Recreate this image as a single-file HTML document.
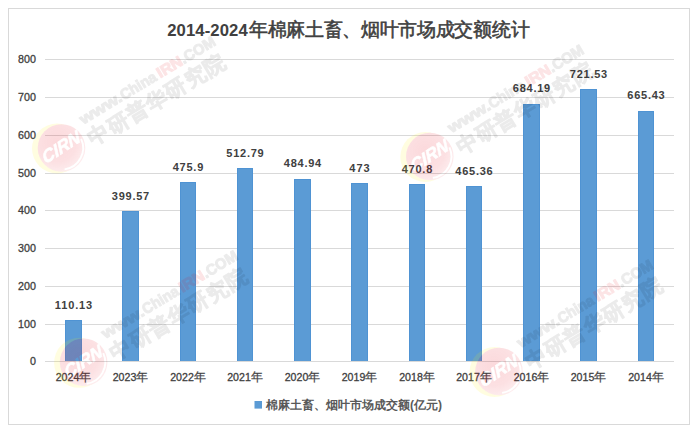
<!DOCTYPE html>
<html><head><meta charset="utf-8">
<style>
html,body{margin:0;padding:0;background:#fff;}
body{width:697px;height:433px;overflow:hidden;font-family:"Liberation Sans",sans-serif;}
svg{display:block;}
text{font-family:"Liberation Sans",sans-serif;}
</style></head><body>
<svg width="697" height="433" viewBox="0 0 697 433">
<defs>
<mask id="ym" maskUnits="userSpaceOnUse" x="-40" y="-40" width="80" height="80"><rect x="-40" y="-40" width="80" height="80" fill="#fff"/><circle cx="0" cy="0" r="23.8" fill="#000"/></mask>
<mask id="rm" maskUnits="userSpaceOnUse" x="-40" y="-40" width="80" height="80"><rect x="-40" y="-40" width="80" height="80" fill="#fff"/>
<path d="M19.6,-9.1 A21.6,21.6 0 0 1 3.1,21.4" fill="none" stroke="#000" stroke-width="1.9"/>
<g transform="rotate(-33) skewX(-10)"><text x="0" y="5" text-anchor="middle" font-size="17.5" font-weight="bold" font-style="italic" fill="#000" stroke="#000" stroke-width="0.7">CIRN</text></g>
</mask>
<radialGradient id="rg" cx="0.4" cy="0.38" r="0.7">
<stop offset="0" stop-color="#e60012" stop-opacity="0.15"/>
<stop offset="0.6" stop-color="#e60012" stop-opacity="0.12"/>
<stop offset="1" stop-color="#e60012" stop-opacity="0.06"/>
</radialGradient>
<g id="wm">
<circle cx="-4.5" cy="0.5" r="25" fill="#fff000" fill-opacity="0.12" mask="url(#ym)"/>
<circle cx="0" cy="0" r="23.8" fill="url(#rg)" mask="url(#rm)"/>
<g transform="rotate(-31)">
<g opacity="0.075" font-weight="bold" fill="#000" stroke="#000" stroke-width="1.1" stroke-linejoin="round" font-size="15">
<text x="30.6" y="-8.8" textLength="47" lengthAdjust="spacingAndGlyphs">www.</text>
<text x="77.8" y="-8.8" textLength="40" lengthAdjust="spacingAndGlyphs">China</text>
<text x="148" y="-8.8" textLength="38.5" lengthAdjust="spacingAndGlyphs">.COM</text>
<text x="28" y="15" font-size="21" stroke-width="1" textLength="156" lengthAdjust="spacing">中研普华研究院</text>
</g>
<g opacity="0.1" font-weight="bold" fill="#e60012" stroke="#e60012" stroke-width="1.1" stroke-linejoin="round" font-size="15">
<text x="120.6" y="-8.8" textLength="27.5" lengthAdjust="spacingAndGlyphs">IRN</text>
</g>
</g>
</g>
</defs>
<rect x="0" y="0" width="697" height="433" fill="#fff"/>
<rect x="8.5" y="8.5" width="681" height="416" fill="#fff" stroke="#d9d9d9" stroke-width="1"/>

<rect x="45" y="59" width="629" height="1" fill="#d9d9d9"/>
<rect x="45" y="97" width="629" height="1" fill="#d9d9d9"/>
<rect x="45" y="135" width="629" height="1" fill="#d9d9d9"/>
<rect x="45" y="173" width="629" height="1" fill="#d9d9d9"/>
<rect x="45" y="210" width="629" height="1" fill="#d9d9d9"/>
<rect x="45" y="248" width="629" height="1" fill="#d9d9d9"/>
<rect x="45" y="286" width="629" height="1" fill="#d9d9d9"/>
<rect x="45" y="324" width="629" height="1" fill="#d9d9d9"/>
<rect x="45" y="361" width="629" height="1" fill="#d9d9d9"/>
<rect x="65" y="320" width="17" height="41" fill="#5b9bd5"/>
<path d="M65.5,361V320.5H81.5V361" fill="none" stroke="#4f93d3" stroke-width="1"/>
<text x="73.50" y="308.89" text-anchor="middle" font-size="11" font-weight="bold" fill="#404040" textLength="37.36" lengthAdjust="spacing">110.13</text>
<text x="73.50" y="381" text-anchor="middle" font-size="10.6" fill="#404040" stroke="#404040" stroke-width="0.3">2024<tspan font-size="12" stroke-width="0.2">年</tspan></text>
<rect x="122" y="211" width="17" height="150" fill="#5b9bd5"/>
<path d="M122.5,361V211.5H138.5V361" fill="none" stroke="#4f93d3" stroke-width="1"/>
<text x="130.50" y="199.53" text-anchor="middle" font-size="11" font-weight="bold" fill="#404040" textLength="37.36" lengthAdjust="spacing">399.57</text>
<text x="130.50" y="381" text-anchor="middle" font-size="10.6" fill="#404040" stroke="#404040" stroke-width="0.3">2023<tspan font-size="12" stroke-width="0.2">年</tspan></text>
<rect x="180" y="182" width="16" height="179" fill="#5b9bd5"/>
<path d="M180.5,361V182.5H195.5V361" fill="none" stroke="#4f93d3" stroke-width="1"/>
<text x="188.00" y="170.70" text-anchor="middle" font-size="11" font-weight="bold" fill="#404040" textLength="30.60" lengthAdjust="spacing">475.9</text>
<text x="188.00" y="381" text-anchor="middle" font-size="10.6" fill="#404040" stroke="#404040" stroke-width="0.3">2022<tspan font-size="12" stroke-width="0.2">年</tspan></text>
<rect x="237" y="168" width="16" height="193" fill="#5b9bd5"/>
<path d="M237.5,361V168.5H252.5V361" fill="none" stroke="#4f93d3" stroke-width="1"/>
<text x="245.00" y="156.76" text-anchor="middle" font-size="11" font-weight="bold" fill="#404040" textLength="37.36" lengthAdjust="spacing">512.79</text>
<text x="245.00" y="381" text-anchor="middle" font-size="10.6" fill="#404040" stroke="#404040" stroke-width="0.3">2021<tspan font-size="12" stroke-width="0.2">年</tspan></text>
<rect x="294" y="179" width="17" height="182" fill="#5b9bd5"/>
<path d="M294.5,361V179.5H310.5V361" fill="none" stroke="#4f93d3" stroke-width="1"/>
<text x="302.50" y="167.28" text-anchor="middle" font-size="11" font-weight="bold" fill="#404040" textLength="37.36" lengthAdjust="spacing">484.94</text>
<text x="302.50" y="381" text-anchor="middle" font-size="10.6" fill="#404040" stroke="#404040" stroke-width="0.3">2020<tspan font-size="12" stroke-width="0.2">年</tspan></text>
<rect x="351" y="183" width="17" height="178" fill="#5b9bd5"/>
<path d="M351.5,361V183.5H367.5V361" fill="none" stroke="#4f93d3" stroke-width="1"/>
<text x="359.50" y="171.79" text-anchor="middle" font-size="11" font-weight="bold" fill="#404040" textLength="20.28" lengthAdjust="spacing">473</text>
<text x="359.50" y="381" text-anchor="middle" font-size="10.6" fill="#404040" stroke="#404040" stroke-width="0.3">2019<tspan font-size="12" stroke-width="0.2">年</tspan></text>
<rect x="409" y="184" width="16" height="177" fill="#5b9bd5"/>
<path d="M409.5,361V184.5H424.5V361" fill="none" stroke="#4f93d3" stroke-width="1"/>
<text x="417.00" y="172.62" text-anchor="middle" font-size="11" font-weight="bold" fill="#404040" textLength="30.60" lengthAdjust="spacing">470.8</text>
<text x="417.00" y="381" text-anchor="middle" font-size="10.6" fill="#404040" stroke="#404040" stroke-width="0.3">2018<tspan font-size="12" stroke-width="0.2">年</tspan></text>
<rect x="466" y="186" width="16" height="175" fill="#5b9bd5"/>
<path d="M466.5,361V186.5H481.5V361" fill="none" stroke="#4f93d3" stroke-width="1"/>
<text x="474.00" y="174.68" text-anchor="middle" font-size="11" font-weight="bold" fill="#404040" textLength="37.36" lengthAdjust="spacing">465.36</text>
<text x="474.00" y="381" text-anchor="middle" font-size="10.6" fill="#404040" stroke="#404040" stroke-width="0.3">2017<tspan font-size="12" stroke-width="0.2">年</tspan></text>
<rect x="523" y="104" width="17" height="257" fill="#5b9bd5"/>
<path d="M523.5,361V104.5H539.5V361" fill="none" stroke="#4f93d3" stroke-width="1"/>
<text x="531.50" y="92.00" text-anchor="middle" font-size="11" font-weight="bold" fill="#404040" textLength="37.36" lengthAdjust="spacing">684.19</text>
<text x="531.50" y="381" text-anchor="middle" font-size="10.6" fill="#404040" stroke="#404040" stroke-width="0.3">2016<tspan font-size="12" stroke-width="0.2">年</tspan></text>
<rect x="580" y="89" width="17" height="272" fill="#5b9bd5"/>
<path d="M580.5,361V89.5H596.5V361" fill="none" stroke="#4f93d3" stroke-width="1"/>
<text x="588.50" y="77.89" text-anchor="middle" font-size="11" font-weight="bold" fill="#404040" textLength="37.36" lengthAdjust="spacing">721.53</text>
<text x="588.50" y="381" text-anchor="middle" font-size="10.6" fill="#404040" stroke="#404040" stroke-width="0.3">2015<tspan font-size="12" stroke-width="0.2">年</tspan></text>
<rect x="638" y="111" width="16" height="250" fill="#5b9bd5"/>
<path d="M638.5,361V111.5H653.5V361" fill="none" stroke="#4f93d3" stroke-width="1"/>
<text x="646.00" y="99.09" text-anchor="middle" font-size="11" font-weight="bold" fill="#404040" textLength="37.36" lengthAdjust="spacing">665.43</text>
<text x="646.00" y="381" text-anchor="middle" font-size="10.6" fill="#404040" stroke="#404040" stroke-width="0.3">2014<tspan font-size="12" stroke-width="0.2">年</tspan></text>
<text x="35.9" y="62.75" text-anchor="end" font-size="10.7" fill="#404040" stroke="#404040" stroke-width="0.3">800</text>
<text x="35.9" y="100.75" text-anchor="end" font-size="10.7" fill="#404040" stroke="#404040" stroke-width="0.3">700</text>
<text x="35.9" y="138.75" text-anchor="end" font-size="10.7" fill="#404040" stroke="#404040" stroke-width="0.3">600</text>
<text x="35.9" y="176.75" text-anchor="end" font-size="10.7" fill="#404040" stroke="#404040" stroke-width="0.3">500</text>
<text x="35.9" y="213.75" text-anchor="end" font-size="10.7" fill="#404040" stroke="#404040" stroke-width="0.3">400</text>
<text x="35.9" y="251.75" text-anchor="end" font-size="10.7" fill="#404040" stroke="#404040" stroke-width="0.3">300</text>
<text x="35.9" y="289.75" text-anchor="end" font-size="10.7" fill="#404040" stroke="#404040" stroke-width="0.3">200</text>
<text x="35.9" y="327.75" text-anchor="end" font-size="10.7" fill="#404040" stroke="#404040" stroke-width="0.3">100</text>
<text x="35.9" y="364.75" text-anchor="end" font-size="10.7" fill="#404040" stroke="#404040" stroke-width="0.3">0</text>
<text x="167.2" y="35.7" font-size="16.7" font-weight="bold" fill="#404040" textLength="80.5" lengthAdjust="spacing">2014-2024</text>
<text x="249" y="35.7" font-size="18.67" fill="#404040" stroke="#404040" stroke-width="0.55" textLength="280.5" lengthAdjust="spacing">年棉麻土畜、烟叶市场成交额统计</text>
<rect x="254.5" y="401" width="7.5" height="7.6" fill="#5b9bd5"/>
<text x="266" y="409" font-size="12" font-weight="bold" fill="#595959" textLength="176" lengthAdjust="spacing">棉麻土畜、烟叶市场成交额(亿元)</text>
<use href="#wm" x="61.5" y="148"/>
<use href="#wm" x="429.8" y="156.5"/>
<use href="#wm" x="83.6" y="362.3"/>
<use href="#wm" x="499" y="371.5"/>
</svg></body></html>
